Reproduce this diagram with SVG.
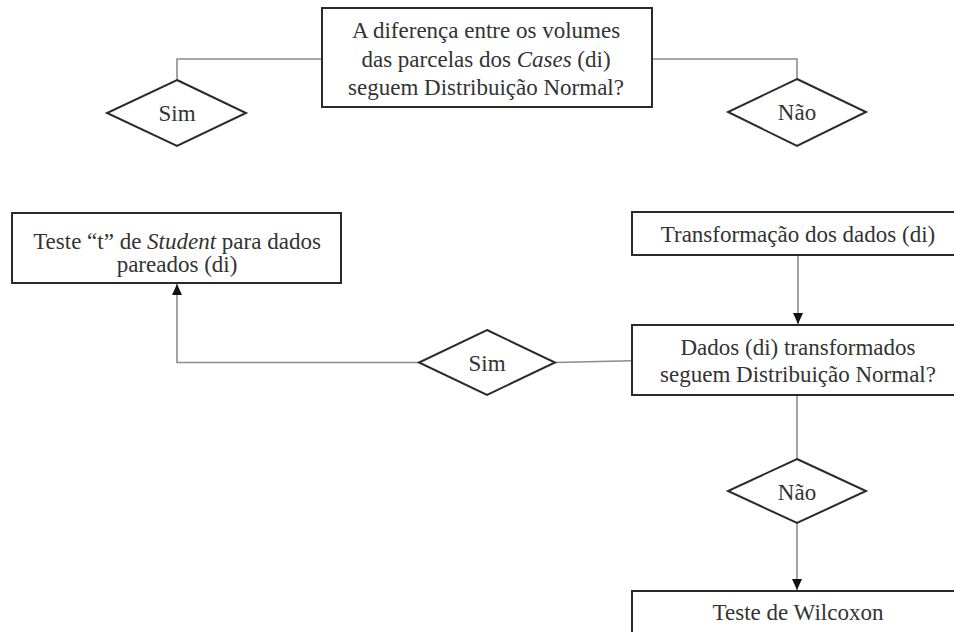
<svg xmlns="http://www.w3.org/2000/svg" width="954" height="632" viewBox="0 0 954 632">
  <defs>
    <style>
      .box { fill: #ffffff; stroke: #2a2a2a; stroke-width: 2; }
      .dia { fill: #ffffff; stroke: #2a2a2a; stroke-width: 2; stroke-linejoin: miter; }
      .conn { fill: none; stroke: #8c8c8c; stroke-width: 1.6; }
      .t { font-size: 23px; fill: #333333; text-anchor: middle; }
      .i { font-style: italic; }
    </style>
    <marker id="arrow" markerUnits="userSpaceOnUse" markerWidth="12" markerHeight="12" viewBox="0 0 12 12" refX="11" refY="6" orient="auto">
      <path d="M0,1 L11,6 L0,11 Z" fill="#111111"/>
    </marker>
  </defs>
  <rect width="954" height="632" fill="#ffffff"/>

  <g id="connectors">
    <polyline class="conn" points="322,59 177,59 177,80"/>
    <polyline class="conn" points="652,59 797,59 797,79"/>
    <line class="conn" x1="798" y1="255" x2="798" y2="324" marker-end="url(#arrow)"/>
    <line class="conn" x1="632" y1="360.7" x2="555" y2="362.5"/>
    <polyline class="conn" points="419,362.5 177,362.5 177,284" marker-end="url(#arrow)"/>
    <line class="conn" x1="797" y1="395" x2="797" y2="459"/>
    <line class="conn" x1="797" y1="523" x2="797" y2="590" marker-end="url(#arrow)"/>
  </g>

  <g font-family="'Liberation Serif', 'Times New Roman', Times, 'DejaVu Serif', serif">
  <g id="q1">
    <rect class="box" x="322" y="8" width="330" height="99"/>
    <text class="t" x="486" y="38">A diferença entre os volumes</text>
    <text class="t" x="486" y="66.5">das parcelas dos <tspan class="i">Cases</tspan> (di)</text>
    <text class="t" x="486" y="95">seguem Distribuição Normal?</text>
  </g>

  <g id="sim1">
    <polygon class="dia" points="177,80 246,113 177,146 107,113"/>
    <text class="t" x="177" y="121">Sim</text>
  </g>

  <g id="nao1">
    <polygon class="dia" points="797,79 866,112 797,146 728,112"/>
    <text class="t" x="797" y="120">Não</text>
  </g>

  <g id="student">
    <rect class="box" x="12" y="213" width="329" height="70"/>
    <text class="t" x="177" y="248.5">Teste “t” de <tspan class="i">Student</tspan> para dados</text>
    <text class="t" x="177" y="272">pareados (di)</text>
  </g>

  <g id="transf">
    <rect class="box" x="632" y="212" width="334" height="43"/>
    <text class="t" x="798" y="241.5">Transformação dos dados (di)</text>
  </g>

  <g id="dados">
    <rect class="box" x="632" y="325" width="334" height="70"/>
    <text class="t" x="798" y="355">Dados (di) transformados</text>
    <text class="t" x="798" y="381.5">seguem Distribuição Normal?</text>
  </g>

  <g id="sim2">
    <polygon class="dia" points="487,330 555,362.5 487,395 419,362.5"/>
    <text class="t" x="487" y="370.5">Sim</text>
  </g>

  <g id="nao2">
    <polygon class="dia" points="797,459 866,491 797,523 728,491"/>
    <text class="t" x="797" y="499.5">Não</text>
  </g>

  <g id="wilcoxon">
    <rect class="box" x="632" y="591" width="334" height="60"/>
    <text class="t" x="798" y="620">Teste de Wilcoxon</text>
  </g>
  </g>
</svg>
